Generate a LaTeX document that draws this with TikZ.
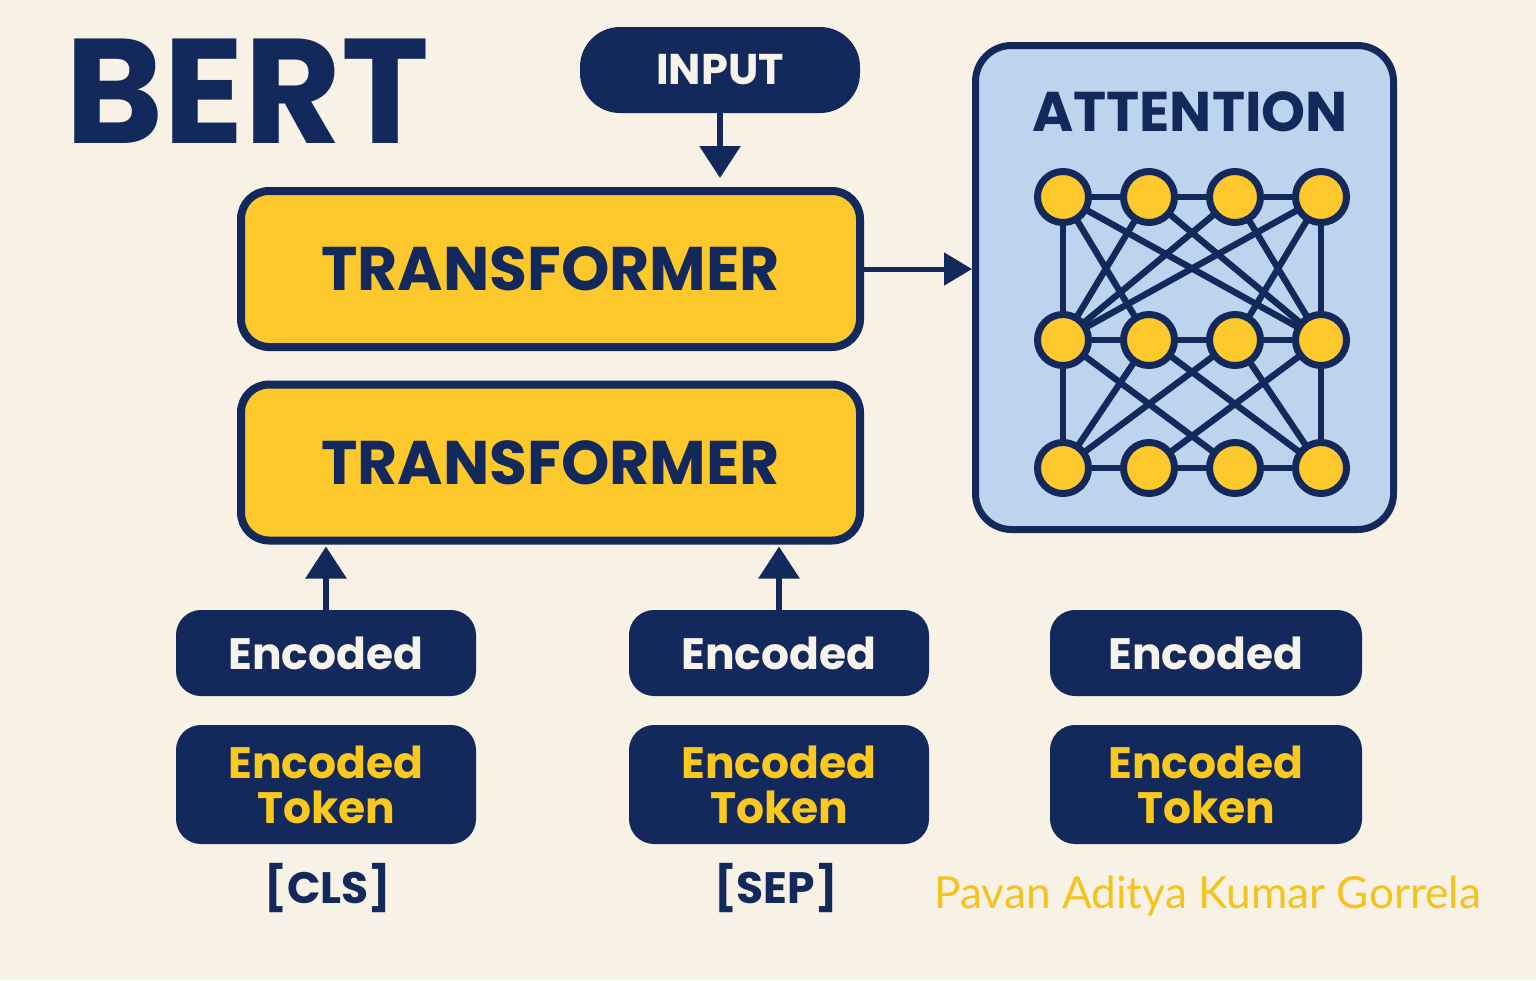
\documentclass[tikz,border=0pt]{standalone}
\usepackage{fontspec}
\setmainfont{Poppins}
\newfontfamily\credfont{Lato}
\usetikzlibrary{arrows.meta}
\definecolor{navy}{HTML}{13295B}
\definecolor{tyellow}{HTML}{FCC82C}
\definecolor{lblue}{HTML}{BDD4EE}
\definecolor{bgc}{HTML}{F7F1E6}
\definecolor{tokyellow}{HTML}{FAC81E}
\definecolor{credyellow}{HTML}{F5C31E}
\definecolor{offwhite}{HTML}{F7F2EA}
\pgfdeclarelayer{back}
\pgfdeclarelayer{mid}
\pgfsetlayers{back,mid,main}
\tikzset{
  tbox/.style={draw=navy, line width=4pt, fill=tyellow, rounded corners=14pt,
    minimum width=309.5pt, minimum height=78pt, inner sep=0pt,
    font=\bfseries\fontsize{30.8}{36}\selectfont, text=navy},
  darkbox/.style={fill=navy, draw=none, rounded corners=12.5pt, inner sep=0pt},
  encbox/.style={darkbox, minimum height=43pt, text=offwhite,
    font=\bfseries\fontsize{22}{26}\selectfont},
  tokbox/.style={darkbox, minimum height=59.5pt, text=tokyellow, align=center,
    font=\bfseries\fontsize{22}{22.5}\selectfont},
  arr/.style={draw=navy, line width=3pt, -{Triangle[width=20pt,length=16pt]}},
  nn/.style={circle, draw=navy, fill=tyellow, line width=3.5pt, minimum size=25.5pt, inner sep=0pt},
  ed/.style={draw=navy, line width=3.2pt},
  tag/.style={text=navy, font=\bfseries\fontsize{22}{26}\selectfont}
}
\begin{document}
\begin{tikzpicture}[x=0.5pt,y=-0.5pt]
\begin{pgfonlayer}{back}
\fill[bgc] (0,0) rectangle (1536,980);
\end{pgfonlayer}
\path[use as bounding box] (0,0) rectangle (1536,980);

% title
\node[anchor=base west, inner sep=0pt, text=navy, font=\bfseries\fontsize{74.5}{80}\selectfont] (bert) at (65,143) {BERT};

% input
\node[darkbox, rounded corners=20pt, minimum width=140pt, minimum height=43pt, text=offwhite,
  font=\bfseries\fontsize{21.5}{26}\selectfont] (inp) at (720,70) {INPUT};

% transformers
\node[tbox] (tr1) at (550.5,269) {TRANSFORMER};
\node[tbox] (tr2) at (550.5,462.5) {TRANSFORMER};

% attention panel
\begin{pgfonlayer}{back}
\node[draw=navy, line width=3.5pt, fill=lblue, rounded corners=18pt,
  minimum width=209pt, minimum height=242pt, inner sep=0pt] (att) at (1184.5,287.5) {};
\end{pgfonlayer}
\node[text=navy, font=\bfseries\fontsize{28}{34}\selectfont] (atttitle) at (1190,112) {ATTENTION};

% network nodes
\foreach \i/\x in {1/1063,2/1149,3/1235,4/1321}{
  \node[nn] (t\i) at (\x,197) {};
  \node[nn] (m\i) at (\x,340) {};
  \node[nn] (b\i) at (\x,468) {};
}
\begin{pgfonlayer}{mid}
\foreach \a/\b in {t1/t2,t2/t3,t3/t4,m1/m2,m2/m3,m3/m4,b1/b2,b2/b3,b3/b4,
  t1/m1,t4/m4,m1/b1,m4/b4,
  t1/m2,t1/m4,t2/m1,t2/m4,t3/m1,t3/m4,t4/m1,t4/m3,
  m1/b3,m2/b1,m2/b4,m3/b1,m3/b4,m4/b2}
  \draw[ed] (\a.center) -- (\b.center);
\end{pgfonlayer}

% encoded rows
\node[encbox, minimum width=150pt] (e1) at (326,653) {Encoded};
\node[encbox, minimum width=150pt] (e2) at (779,653) {Encoded};
\node[encbox, minimum width=156pt] (e3) at (1206,653) {Encoded};
\node[tokbox, minimum width=150pt] (k1) at (326,784.5) {Encoded\\Token};
\node[tokbox, minimum width=150pt] (k2) at (779,784.5) {Encoded\\Token};
\node[tokbox, minimum width=156pt] (k3) at (1206,784.5) {Encoded\\Token};

\node[tag] (cls) at (328,888) {[CLS]};
\node[tag] (sep) at (776,888) {[SEP]};
\node[anchor=west, inner sep=0pt, text=credyellow, font=\credfont\fontsize{22.1}{26}\selectfont] (cred) at (934,896) {Pavan Aditya Kumar Gorrela};

% arrows
\draw[arr, shorten >=4.5pt] (inp.south) -- (inp.south |- tr1.north);
\draw[arr, line width=2.5pt, -{Triangle[width=16pt,length=14pt]}] (tr1.east) -- (att.west |- tr1.east);
\draw[arr, shorten >=1pt] (e1.north) -- (e1.north |- tr2.south);
\draw[arr, shorten >=1pt] (e2.north) -- (e2.north |- tr2.south);
\end{tikzpicture}
\end{document}
